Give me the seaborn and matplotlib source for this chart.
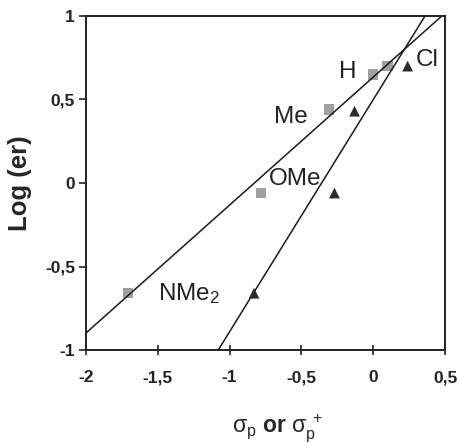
import matplotlib
matplotlib.use("Agg")
import matplotlib.pyplot as plt
import seaborn as sns
import pandas as pd

# ---- data ----
sq_x = [-1.71, -0.78, -0.31, 0.00, 0.10]
sq_y = [-0.66, -0.06, 0.44, 0.65, 0.70]
tri_x = [-0.83, -0.27, -0.13, 0.24]
tri_y = [-0.66, -0.06, 0.43, 0.70]

# trend lines (slope, intercept)
sq_fit = (0.766, 0.634)
tri_fit = (1.389, 0.499)

labels = ["NMe$_\\mathregular{2}$", "OMe", "Me", "H", "Cl"]
label_x = [-1.28, -0.545, -0.57, -0.175, 0.375]
label_y = [-0.66, 0.025, 0.395, 0.665, 0.737]

x_ticks = [-2, -1.5, -1, -0.5, 0, 0.5]
y_ticks = [-1, -0.5, 0, 0.5, 1]

def fmt(v):
    return ("%g" % v).replace(".", ",")

sns.set_theme(style="white")
plt.rcParams["font.family"] = ["Liberation Sans", "DejaVu Sans"]
plt.rcParams["mathtext.fontset"] = "custom"
plt.rcParams["mathtext.rm"] = "Liberation Sans"
plt.rcParams["mathtext.it"] = "Liberation Sans"
plt.rcParams["mathtext.bf"] = "Liberation Sans:bold"

fig = plt.figure(figsize=(4.59, 4.43), dpi=100)
ax = fig.add_axes([0.1874, 0.2099, 0.9695 - 0.1874, 0.9639 - 0.2099])

df_sq = pd.DataFrame({"x": sq_x, "y": sq_y})
df_tri = pd.DataFrame({"x": tri_x, "y": tri_y})

ax.axline((0, sq_fit[1]), slope=sq_fit[0], color="#1a1a1a", lw=1.1, zorder=3)
ax.axline((0, tri_fit[1]), slope=tri_fit[0], color="#1a1a1a", lw=1.1, zorder=3)

sns.scatterplot(data=df_sq, x="x", y="y", marker="s", s=55, color="#a0a0a0",
                edgecolor="none", ax=ax, zorder=2)
sns.scatterplot(data=df_tri, x="x", y="y", marker="^", s=60, color="#2b2b2b",
                edgecolor="none", ax=ax, zorder=4)

for t, lx, ly in zip(labels, label_x, label_y):
    ax.text(lx, ly, t, fontsize=17.5, color="#222222", ha="center",
            va="center", zorder=5)

ax.set_xlim(-2, 0.5)
ax.set_ylim(-1, 1)
ax.set_xticks(x_ticks)
ax.set_yticks(y_ticks)
ax.set_xticklabels([fmt(v) for v in x_ticks], fontsize=12.5, fontweight="bold")
ax.set_yticklabels([fmt(v) for v in y_ticks], fontsize=12.5, fontweight="bold")
ax.tick_params(axis="x", direction="inout", length=7, width=1.2, pad=11,
               colors="#222222", bottom=True)
ax.tick_params(axis="y", direction="out", length=5, width=1.2, pad=3,
               colors="#222222", left=True)
for sp in ax.spines.values():
    sp.set_color("#222222")
    sp.set_linewidth(1.4)

ax.set_ylabel("Log (er)", fontsize=18.5, fontweight="bold", labelpad=9)
ax.set_xlabel("$\\mathregular{σ_p}$ $\\mathbf{or}$ $\\mathregular{σ_p^{\\ +}}$",
              fontsize=16.5, va="center")
ax.xaxis.set_label_coords(0.535, -0.235)

fig.savefig("out.png", dpi=100)
